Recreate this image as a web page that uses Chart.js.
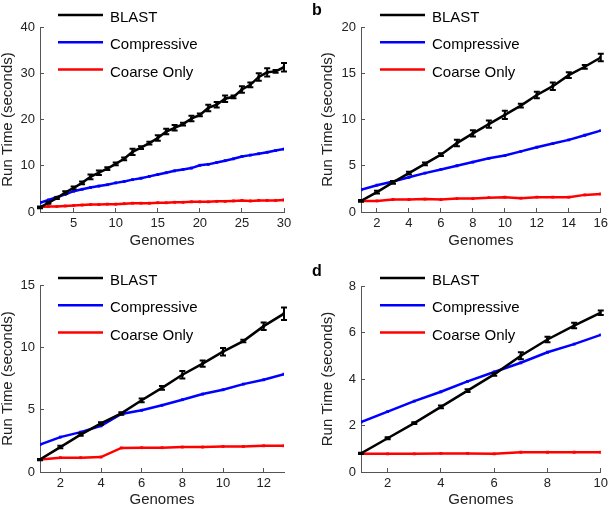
<!DOCTYPE html>
<html>
<head>
<meta charset="utf-8">
<script src="https://cdn.jsdelivr.net/npm/chart.js@4.4.1/dist/chart.umd.min.js"></script>
<style>
  html, body { margin: 0; padding: 0; background: #fff; }
  #wrap { position: relative; width: 616px; height: 509px; overflow: hidden; }
  .panel { position: absolute; }
  .tag { position: absolute; font: bold 16px 'Liberation Sans', Arial, sans-serif; color: #000; }
</style>
</head>
<body>
<div id="wrap">
  <canvas id="chartA" class="panel" width="308" height="250" style="left:0;top:0"></canvas>
  <canvas id="chartB" class="panel" width="308" height="250" style="left:308px;top:0"></canvas>
  <canvas id="chartC" class="panel" width="308" height="259" style="left:0;top:250px"></canvas>
  <canvas id="chartD" class="panel" width="308" height="259" style="left:308px;top:250px"></canvas>
  <div class="tag" style="left:312px;top:1px">b</div>
  <div class="tag" style="left:312px;top:262px">d</div>
</div>
<script>
// Series names, shared by the four panels.
var seriesNames = ['BLAST', 'Compressive', 'Coarse Only'];

// Panel a: 30 genomes.
var genomesA = [1,2,3,4,5,6,7,8,9,10,11,12,13,14,15,16,17,18,19,20,21,22,23,24,25,26,27,28,29,30];
var blastA = [1.0,2.0,3.0,4.2,5.2,6.3,7.6,8.5,9.4,10.4,11.5,13.0,13.9,14.9,16.0,17.4,18.2,19.0,20.2,21.0,22.5,23.2,24.5,24.9,26.5,27.5,29.2,30.2,30.4,31.3];
var blastErrA = [0.2,0.2,0.2,0.3,0.3,0.3,0.5,0.5,0.3,0.3,0.3,0.7,0.3,0.3,0.6,0.6,0.6,0.3,0.6,0.3,0.7,0.6,0.7,0.3,0.7,0.5,0.8,0.9,0.3,0.9];
var compA = [2.0,2.6,3.2,3.8,4.5,4.9,5.3,5.6,5.9,6.3,6.6,7.0,7.3,7.7,8.1,8.5,8.9,9.2,9.5,10.1,10.3,10.7,11.1,11.5,12.0,12.3,12.6,12.9,13.3,13.6];
var coarseA = [1.1,1.2,1.2,1.3,1.4,1.5,1.6,1.6,1.7,1.7,1.8,1.9,1.9,1.9,2.0,2.0,2.1,2.1,2.2,2.2,2.2,2.3,2.3,2.4,2.5,2.4,2.5,2.5,2.5,2.6];
var xTicksA = [5, 10, 15, 20, 25, 30];
var yTicksA = [0, 10, 20, 30, 40];

// Panel b: 16 genomes.
var genomesB = [1,2,3,4,5,6,7,8,9,10,11,12,13,14,15,16];
var blastB = [1.2,2.15,3.2,4.2,5.2,6.2,7.45,8.5,9.5,10.5,11.5,12.65,13.6,14.8,15.7,16.7];
var blastErrB = [0.1,0.15,0.15,0.15,0.15,0.15,0.35,0.35,0.4,0.45,0.2,0.35,0.4,0.3,0.2,0.4];
var compB = [2.4,2.9,3.3,3.75,4.2,4.6,5.0,5.4,5.8,6.1,6.55,7.0,7.4,7.8,8.3,8.8];
var coarseB = [1.2,1.2,1.35,1.35,1.4,1.35,1.45,1.45,1.55,1.6,1.5,1.6,1.6,1.6,1.85,1.95];
var xTicksB = [2, 4, 6, 8, 10, 12, 14, 16];
var yTicksB = [0, 5, 10, 15, 20];

// Panel c: 13 genomes.
var genomesC = [1,2,3,4,5,6,7,8,9,10,11,12,13];
var blastC = [1.0,2.0,3.0,3.9,4.7,5.75,6.75,7.8,8.7,9.65,10.5,11.7,12.7];
var blastErrC = [0.05,0.1,0.1,0.1,0.1,0.15,0.15,0.3,0.25,0.3,0.1,0.3,0.5];
var compC = [2.2,2.8,3.2,3.7,4.65,4.95,5.35,5.8,6.25,6.6,7.05,7.4,7.85];
var coarseC = [1.0,1.15,1.15,1.2,1.93,1.95,1.95,2.0,2.0,2.05,2.05,2.1,2.1];
var xTicksC = [2, 4, 6, 8, 10, 12];
var yTicksC = [0, 5, 10, 15];

// Panel d: 10 genomes.
var genomesD = [1,2,3,4,5,6,7,8,9,10];
var blastD = [0.8,1.45,2.1,2.8,3.5,4.2,5.0,5.7,6.3,6.85];
var blastErrD = [0.03,0.04,0.04,0.06,0.06,0.06,0.15,0.12,0.12,0.1];
var compD = [2.15,2.6,3.05,3.45,3.9,4.3,4.7,5.15,5.5,5.9];
var coarseD = [0.78,0.78,0.78,0.8,0.8,0.78,0.85,0.85,0.85,0.85];
var xTicksD = [2, 4, 6, 8, 10];
var yTicksD = [0, 2, 4, 6, 8];

// ----------------------------------------------------------------------------

var FONT = "'Liberation Sans', Arial, Helvetica, sans-serif";
var COLORS = ['#000000', '#0000ff', '#ff0000'];

// Draws vertical error bars for any dataset carrying an `errors` array.
var errorBarPlugin = {
  id: 'errorBars',
  afterDatasetsDraw: function(chart) {
    var ctx = chart.ctx;
    var yScale = chart.scales.y;
    chart.data.datasets.forEach(function(ds, di) {
      if (!ds.errors) return;
      var meta = chart.getDatasetMeta(di);
      ctx.save();
      ctx.strokeStyle = ds.borderColor;
      ctx.lineWidth = 2;
      meta.data.forEach(function(pt, i) {
        var e = ds.errors[i];
        var v = ds.data[i].y;
        var top = yScale.getPixelForValue(v + e);
        var bot = yScale.getPixelForValue(v - e);
        ctx.beginPath();
        ctx.moveTo(pt.x, top); ctx.lineTo(pt.x, bot);
        ctx.moveTo(pt.x - 3, top); ctx.lineTo(pt.x + 3, top);
        ctx.moveTo(pt.x - 3, bot); ctx.lineTo(pt.x + 3, bot);
        ctx.stroke();
      });
      ctx.restore();
    });
  }
};

// Draws the MATLAB-style legend that sits over the top of the axes.
var lineLegendPlugin = {
  id: 'lineLegend',
  afterDraw: function(chart, args, opts) {
    var ctx = chart.ctx;
    ctx.save();
    ctx.font = '15px ' + FONT;
    ctx.textBaseline = 'middle';
    ctx.fillStyle = '#000';
    chart.data.datasets.forEach(function(ds, i) {
      var y = opts.y + i * opts.gap;
      ctx.strokeStyle = ds.borderColor;
      ctx.lineWidth = 2.5;
      ctx.beginPath();
      ctx.moveTo(opts.x, y);
      ctx.lineTo(opts.x + 45, y);
      ctx.stroke();
      ctx.fillText(ds.label, opts.x + 52, y + 3);
    });
    ctx.restore();
  }
};

function series(xs, ys) {
  return xs.map(function(x, i) { return { x: x, y: ys[i] }; });
}

// Creates one panel.
//
// p - Object with canvas id, data arrays, ticks, and box geometry.
function makePanel(p) {
  var canvas = document.getElementById(p.id);
  var values = [p.blast, p.comp, p.coarse];
  var datasets = values.map(function(ys, i) {
    return {
      label: seriesNames[i],
      data: series(p.genomes, ys),
      errors: i == 0 ? p.blastErr : null,
      borderColor: COLORS[i],
      backgroundColor: COLORS[i],
      borderWidth: 2.5,
      pointStyle: 'rect',
      pointRadius: 2,
      pointBorderWidth: 0,
      tension: 0
    };
  });

  return new Chart(canvas, {
    type: 'line',
    data: { datasets: datasets },
    plugins: [errorBarPlugin, lineLegendPlugin],
    options: {
      responsive: false,
      animation: false,
      events: [],
      layout: { padding: { left: 0, top: p.top, right: canvas.width - p.right, bottom: 0 } },
      plugins: {
        legend: { display: false },
        tooltip: { enabled: false },
        lineLegend: { x: p.legendX, y: p.legendY, gap: 27.3 }
      },
      scales: {
        x: {
          type: 'linear',
          min: p.genomes[0],
          max: p.genomes[p.genomes.length - 1],
          afterBuildTicks: function(s) { s.ticks = p.xTicks.map(function(v) { return { value: v }; }); },
          afterFit: function(s) { s.height = canvas.height - p.bottom; },
          grid: { drawOnChartArea: false, tickLength: -4, color: '#555' },
          border: { color: '#555', width: 1 },
          ticks: { padding: 8, color: '#222', font: { family: FONT, size: 13 }, maxRotation: 0 },
          title: {
            display: true, text: 'Genomes', color: '#222',
            font: { family: FONT, size: 15, lineHeight: 1 },
            padding: { top: 0, bottom: p.xTitlePad }
          }
        },
        y: {
          min: p.yTicks[0],
          max: p.yTicks[p.yTicks.length - 1],
          afterBuildTicks: function(s) { s.ticks = p.yTicks.map(function(v) { return { value: v }; }); },
          afterFit: function(s) { s.width = p.left; },
          grid: { drawOnChartArea: false, tickLength: -4, color: '#555' },
          border: { color: '#555', width: 1 },
          ticks: { padding: 9, color: '#222', font: { family: FONT, size: 13 } },
          title: {
            display: true, text: 'Run Time (seconds)', color: '#222',
            font: { family: FONT, size: 15, lineHeight: 1 },
            padding: { top: p.yTitlePad, bottom: 0 }
          }
        }
      }
    }
  });
}

makePanel({
  id: 'chartA', genomes: genomesA, blast: blastA, blastErr: blastErrA, comp: compA, coarse: coarseA,
  xTicks: xTicksA, yTicks: yTicksA,
  left: 40, top: 27, right: 284, bottom: 212, xTitlePad: 2, yTitlePad: 0,
  legendX: 58, legendY: 15
});

makePanel({
  id: 'chartB', genomes: genomesB, blast: blastB, blastErr: blastErrB, comp: compB, coarse: coarseB,
  xTicks: xTicksB, yTicks: yTicksB,
  left: 53, top: 27, right: 298, bottom: 212, xTitlePad: 2, yTitlePad: 12,
  legendX: 72, legendY: 15
});

makePanel({
  id: 'chartC', genomes: genomesC, blast: blastC, blastErr: blastErrC, comp: compC, coarse: coarseC,
  xTicks: xTicksC, yTicks: yTicksC,
  left: 40, top: 35, right: 284, bottom: 222, xTitlePad: 2, yTitlePad: 0,
  legendX: 58, legendY: 28
});

makePanel({
  id: 'chartD', genomes: genomesD, blast: blastD, blastErr: blastErrD, comp: compD, coarse: coarseD,
  xTicks: xTicksD, yTicks: yTicksD,
  left: 53, top: 36, right: 298, bottom: 222, xTitlePad: 2, yTitlePad: 12,
  legendX: 72, legendY: 28
});
</script>
</body>
</html>
